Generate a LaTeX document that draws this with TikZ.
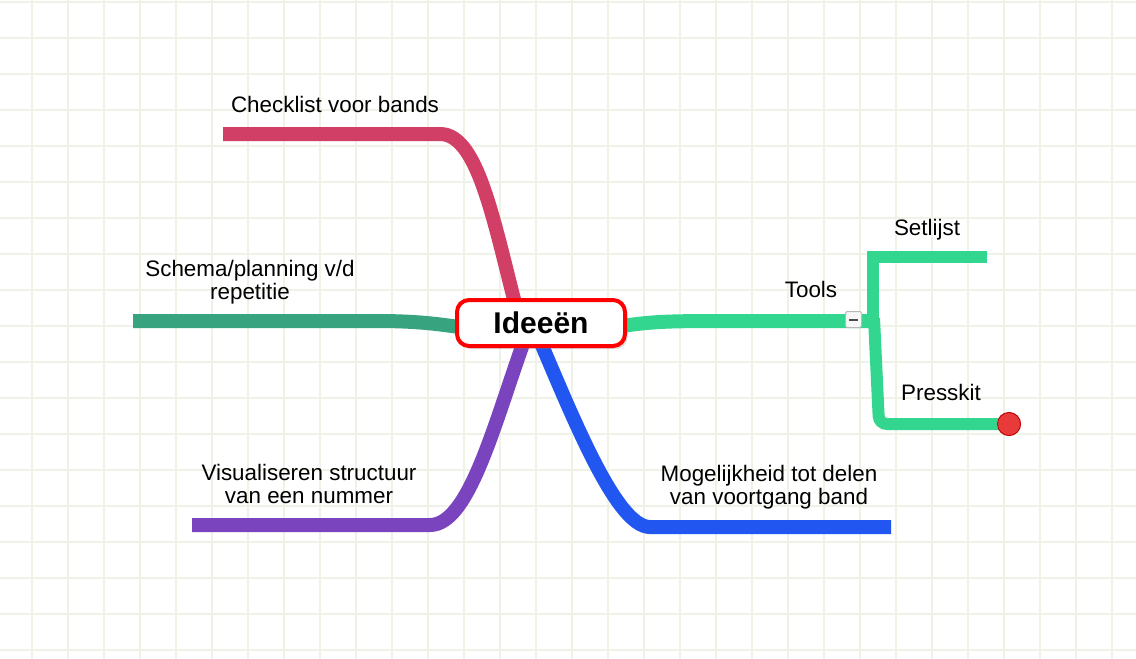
\documentclass[tikz,border=0pt]{standalone}
\usepackage{fontspec}
\setmainfont{Liberation Sans}
\usetikzlibrary{shadows}

\definecolor{gridcol}{HTML}{EFF2E6}
\definecolor{checkcol}{HTML}{D13F66}
\definecolor{schemacol}{HTML}{37A47F}
\definecolor{visualcol}{HTML}{7B44BF}
\definecolor{delencol}{HTML}{2157F0}
\definecolor{toolscol}{HTML}{33D68E}
\definecolor{dotcol}{HTML}{E83A3A}

\begin{document}
\begin{tikzpicture}[x=0.5pt,y=-0.5pt,
  gridline/.style={draw=gridcol,line width=1pt},
  branch/.style={line width=7pt},
  twig/.style={line width=6pt,draw=toolscol},
  idea/.style={rectangle,rounded corners=6pt,draw=red,line width=2pt,fill=white,
    minimum width=84pt,minimum height=23pt,font=\bfseries\fontsize{15}{18}\selectfont,
    drop shadow={opacity=0.3,shadow xshift=1.2pt,shadow yshift=-1.5pt}},
  topic/.style={anchor=base,align=center,inner sep=0pt,font=\fontsize{11.2}{11.4}\selectfont},
  toggle/.style={rectangle,rounded corners=1pt,draw=gray!55,fill=gray!6,line width=0.5pt,
    minimum size=8pt,inner sep=0pt,
    path picture={\draw[line width=1pt,black!70] ([xshift=-2.2pt]path picture bounding box.center)
      -- ([xshift=2.2pt]path picture bounding box.center);}},
  dot/.style={circle,fill=dotcol,draw=red!75!black,line width=0.4pt,minimum size=11.5pt,inner sep=0pt}]

\useasboundingbox[fill=white] (0,0) rectangle (1136,659);

\foreach \i in {0,...,30}
  \draw[gridline] ({32+36*\i},0) -- ({32+36*\i},659);
\foreach \j in {0,...,18}
  \draw[gridline] (0,{2+36*\j}) -- (1136,{2+36*\j});

\coordinate (hub) at (541,323);
\coordinate (checkend) at (223,134);
\coordinate (schemaend) at (133,321);
\coordinate (visualend) at (192,525);
\coordinate (delenend) at (891,527);
\coordinate (split) at (873,321);
\coordinate (setlijstend) at (987,257);

\draw[branch,checkcol] (522,330) .. controls (495,230) and (480,134) .. (440,134) -- (checkend);
\draw[branch,schemacol] (500,334) .. controls (445,324) and (420,321) .. (375,321) -- (schemaend);
\draw[branch,visualcol] (528,330) .. controls (495,420) and (470,525) .. (430,525) -- (visualend);
\draw[branch,delencol] (532,322) .. controls (570,410) and (615,527) .. (650,527) -- (delenend);
\draw[branch,toolscol] (580,333) .. controls (650,321) .. (740,321) -- (split);

\draw[twig] (873,328) -- (873,257) -- (setlijstend);
\node[dot] (presskitend) at (1009,424) {};
\draw[twig,rounded corners=4pt] (874,318) -- (879,424) -- (presskitend.center);
\node[dot] at (1009,424) {};

\node[idea] (ideeen) at (hub) {Ideeën};

\node[topic] (checklist) at (335,112) {Checklist voor bands};
\node[topic] (schema) at (250,299) {Schema/planning v/d\\repetitie};
\node[topic] (visual) at (309,503) {Visualiseren structuur\\van een nummer};
\node[topic] (delen) at (769,504) {Mogelijkheid tot delen\\van voortgang band};
\node[topic] (tools) at (811,297) {Tools};
\node[topic] (setlijst) at (927,235) {Setlijst};
\node[topic] (presskit) at (941,400) {Presskit};

\node[toggle] (fold) at (853.5,319.5) {};
\end{tikzpicture}
\end{document}
